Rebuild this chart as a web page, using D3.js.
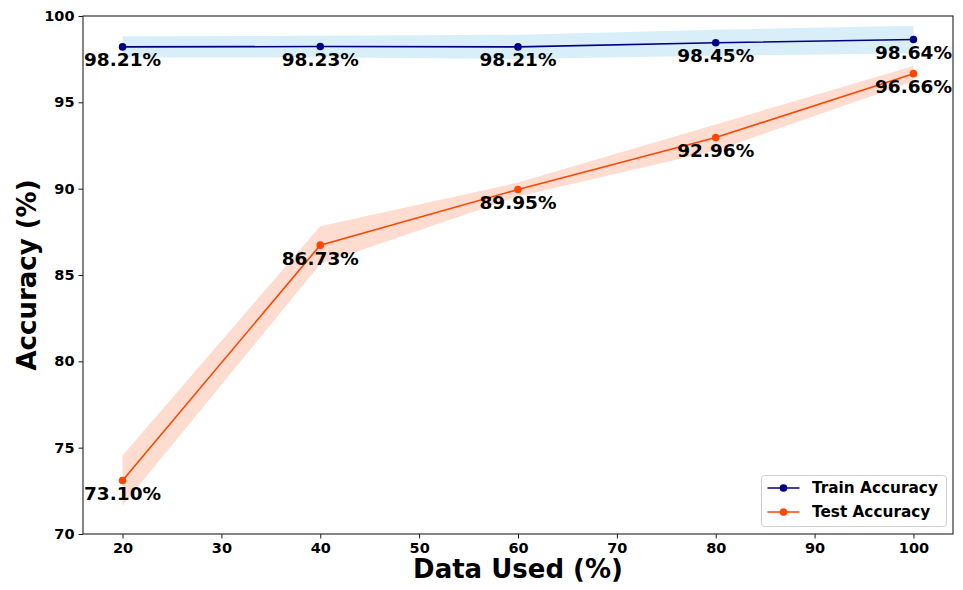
<!DOCTYPE html>
<html>
<head>
<meta charset="utf-8">
<script src="https://cdn.jsdelivr.net/npm/d3@7"></script>
<style>
  html, body { margin: 0; padding: 0; background: #fff; }
  svg { display: block; font-family: "DejaVu Sans", sans-serif; }
</style>
</head>
<body>
<svg id="chart" width="963" height="590"></svg>
<script>
// Fraction of training data used (%)
const dataUsed = [20, 40, 60, 80, 100];
// Mean accuracies (%)
const trainAcc = [98.21, 98.23, 98.21, 98.45, 98.64];
const testAcc  = [73.10, 86.73, 89.95, 92.96, 96.66];
// Spread (std) around the mean, shown as shaded bands
const trainStd = [0.62, 0.62, 0.70, 0.75, 0.80];
const testStd  = [1.45, 1.10, 0.40, 0.75, 0.45];
// Axis ticks
const xTicks = [20, 30, 40, 50, 60, 70, 80, 90, 100];
const yTicks = [70, 75, 80, 85, 90, 95, 100];
const seriesNames = ["Train Accuracy", "Test Accuracy"];

const svg = d3.select("#chart");
const plot = { left: 83, right: 953, top: 16, bottom: 534 };

const x = d3.scaleLinear().domain([16, 104]).range([plot.left, plot.right]);
const y = d3.scaleLinear().domain([70, 100]).range([plot.bottom, plot.top]);

const series = [
  { name: seriesNames[0], mean: trainAcc, std: trainStd, color: "#000080", band: "#87ceeb", bandOpacity: 0.32 },
  { name: seriesNames[1], mean: testAcc,  std: testStd,  color: "#ff4500", band: "#ff7f50", bandOpacity: 0.27 }
];

// Clip the drawing to the axes area
svg.append("defs").append("clipPath").attr("id", "plotClip")
  .append("rect")
  .attr("x", plot.left).attr("y", plot.top)
  .attr("width", plot.right - plot.left).attr("height", plot.bottom - plot.top);

const g = svg.append("g").attr("clip-path", "url(#plotClip)");

const area = d3.area()
  .x(d => x(d.x))
  .y0(d => y(d.m - d.s))
  .y1(d => y(d.m + d.s));
const line = d3.line().x(d => x(d.x)).y(d => y(d.m));

series.forEach(s => {
  const pts = dataUsed.map((v, i) => ({ x: v, m: s.mean[i], s: s.std[i] }));
  g.append("path").datum(pts)
    .attr("d", area)
    .attr("fill", s.band)
    .attr("fill-opacity", s.bandOpacity);
  g.append("path").datum(pts)
    .attr("d", line)
    .attr("fill", "none")
    .attr("stroke", s.color)
    .attr("stroke-width", 1.6);
  g.selectAll(null).data(pts).enter().append("circle")
    .attr("cx", d => x(d.x)).attr("cy", d => y(d.m))
    .attr("r", 3.8)
    .attr("fill", s.color);
});

// Value labels under each point
series.forEach(s => {
  svg.append("g").selectAll("text")
    .data(dataUsed.map((v, i) => ({ x: v, m: s.mean[i] })))
    .enter().append("text")
    .attr("x", d => x(d.x))
    .attr("y", d => y(d.m) + 19.5)
    .attr("text-anchor", "middle")
    .attr("font-size", 18.5)
    .attr("font-weight", "bold")
    .attr("fill", "#000")
    .text(d => d.m.toFixed(2) + "%");
});

// Axes
const xAxis = d3.axisBottom(x).tickValues(xTicks).tickSize(4.5).tickPadding(4).tickFormat(d3.format("d"));
const yAxis = d3.axisLeft(y).tickValues(yTicks).tickSize(4.5).tickPadding(4).tickFormat(d3.format("d"));

const gx = svg.append("g").attr("transform", `translate(0,${plot.bottom})`).call(xAxis);
const gy = svg.append("g").attr("transform", `translate(${plot.left},0)`).call(yAxis);
[gx, gy].forEach(a => {
  a.select(".domain").remove();
  a.selectAll(".tick line").attr("stroke", "#000").attr("stroke-width", 0.9);
  a.selectAll(".tick text")
    .attr("font-size", 14.5)
    .attr("font-weight", "bold")
    .attr("fill", "#000")
    .attr("font-family", "DejaVu Sans, sans-serif");
});

// Frame
svg.append("rect")
  .attr("x", plot.left).attr("y", plot.top)
  .attr("width", plot.right - plot.left).attr("height", plot.bottom - plot.top)
  .attr("fill", "none").attr("stroke", "#222").attr("stroke-width", 1.1);

// Axis titles
svg.append("text")
  .attr("x", (plot.left + plot.right) / 2)
  .attr("y", 578)
  .attr("text-anchor", "middle")
  .attr("font-size", 26)
  .attr("font-weight", "bold")
  .text("Data Used (%)");

svg.append("text")
  .attr("transform", `translate(36,${(plot.top + plot.bottom) / 2}) rotate(-90)`)
  .attr("text-anchor", "middle")
  .attr("font-size", 26)
  .attr("font-weight", "bold")
  .text("Accuracy (%)");

// Legend
const legend = svg.append("g");
legend.append("rect")
  .attr("x", 761.5).attr("y", 475.5)
  .attr("width", 185).attr("height", 51)
  .attr("rx", 3)
  .attr("fill", "#fff").attr("fill-opacity", 0.8)
  .attr("stroke", "#d0d0d0").attr("stroke-width", 1);

series.forEach((s, i) => {
  const cy = 488 + i * 24;
  legend.append("line")
    .attr("x1", 767.5).attr("x2", 799.5)
    .attr("y1", cy).attr("y2", cy)
    .attr("stroke", s.color).attr("stroke-width", 1.6);
  legend.append("circle")
    .attr("cx", 783.5).attr("cy", cy).attr("r", 3.8).attr("fill", s.color);
  legend.append("text")
    .attr("x", 812).attr("y", cy + 5.4)
    .attr("font-size", 15.3)
    .attr("font-weight", "bold")
    .text(s.name);
});
</script>
</body>
</html>
